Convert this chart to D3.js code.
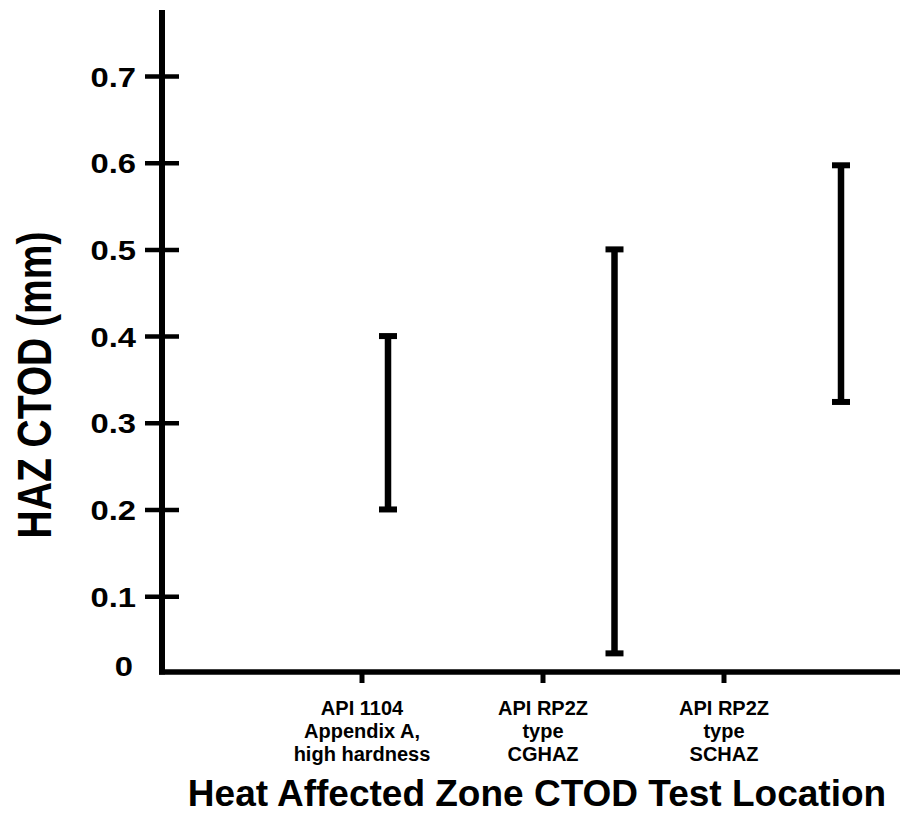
<!DOCTYPE html>
<html lang="en">
<head>
    <meta charset="UTF-8">
    <script src="https://d3js.org/d3.v7.min.js"></script>
    <style>
        body { margin: 0; background: #fff; }
        text {
            font-family: Arial, "Liberation Sans", sans-serif;
            font-weight: bold;
            fill: #000;
        }
        .ytick text { font-size: 28px; }
        .xtick text { font-size: 20px; }
        .axis-title { font-size: 37px; text-anchor: middle; }
    </style>
</head>
<body>
    <svg id="chart"></svg>
    <script>
        // test locations (x categories), each label split in lines
        const locations = ["API 1104 A", "RP2Z CGHAZ", "RP2Z SCHAZ"];
        const locationLabels = [
            ["API 1104", "Appendix A,", "high hardness"],
            ["API RP2Z", "type", "CGHAZ"],
            ["API RP2Z", "type", "SCHAZ"]
        ];
        // CTOD range per location (mm)
        const ctodLow  = [0.20, 0.034, 0.324];
        const ctodHigh = [0.40, 0.50, 0.597];

        const yTicks = [0.1, 0.2, 0.3, 0.4, 0.5, 0.6, 0.7];
        const yFloor = 0.0125;   // value where the x axis sits, labelled "0"

        const width = 900, height = 815;
        const stretch = 1.17;    // tick numbers are drawn a bit wide

        const svg = d3.select("#chart")
            .attr("width", width)
            .attr("height", height);

        const y = d3.scaleLinear()
            .domain([yFloor, 0.7])
            .range([672, 76]);

        const originX = 162;

        // category positions for labels and for the bars (they don't line up in the original)
        const xLabel = d3.scalePoint().domain(locations).range([362, 724]);
        const xBar = d3.scalePoint().domain(locations).range([388, 841]);

        // y axis
        const yAxis = svg.append("g")
            .attr("class", "ytick")
            .attr("transform", `translate(${originX},0)`)
            .call(d3.axisLeft(y).tickValues(yTicks).tickSize(17).tickPadding(8).tickFormat(d3.format(".1f")));
        yAxis.select(".domain").remove();
        yAxis.selectAll(".tick line")
            .attr("x1", -17).attr("x2", 17)
            .attr("stroke", "#000").attr("stroke-width", 4.5);
        yAxis.selectAll(".tick text")
            .attr("dy", "0.36em")
            .attr("x", -26 / stretch)
            .attr("transform", `scale(${stretch},1)`);

        yAxis.append("text")
            .attr("x", -29 / stretch)
            .attr("y", y(yFloor) - 6)
            .attr("dy", "0.36em")
            .attr("text-anchor", "end")
            .attr("transform", `scale(${stretch},1)`)
            .style("font-size", "28px")
            .text("0");

        svg.append("line")
            .attr("x1", originX).attr("x2", originX)
            .attr("y1", 10).attr("y2", y(yFloor) + 2.5)
            .attr("stroke", "#000").attr("stroke-width", 6);

        // x axis
        svg.append("line")
            .attr("x1", originX - 3).attr("x2", width)
            .attr("y1", y(yFloor)).attr("y2", y(yFloor))
            .attr("stroke", "#000").attr("stroke-width", 5.5);

        const xt = svg.selectAll(".xtick")
            .data(locations)
            .enter().append("g")
            .attr("class", "xtick")
            .attr("transform", d => `translate(${xLabel(d)},${y(yFloor)})`);

        xt.append("line")
            .attr("y1", 0).attr("y2", 11)
            .attr("stroke", "#000").attr("stroke-width", 5);

        xt.append("text")
            .attr("text-anchor", "middle")
            .selectAll("tspan")
            .data((d, i) => locationLabels[i])
            .enter().append("tspan")
            .attr("x", 0)
            .attr("y", (d, j) => 43 + j * 23)
            .text(d => d);

        // error bars
        const bars = svg.selectAll(".range")
            .data(locations)
            .enter().append("g")
            .attr("class", "range");

        bars.append("line")
            .attr("x1", d => xBar(d)).attr("x2", d => xBar(d))
            .attr("y1", (d, i) => y(ctodHigh[i])).attr("y2", (d, i) => y(ctodLow[i]))
            .attr("stroke", "#000").attr("stroke-width", 6.5);

        [ctodHigh, ctodLow].forEach(vals => {
            bars.append("line")
                .attr("x1", d => xBar(d) - 9).attr("x2", d => xBar(d) + 9)
                .attr("y1", (d, i) => y(vals[i])).attr("y2", (d, i) => y(vals[i]))
                .attr("stroke", "#000").attr("stroke-width", 6);
        });

        // axis titles
        svg.append("text")
            .attr("class", "axis-title")
            .attr("x", 537)
            .attr("y", 806)
            .text("Heat Affected Zone CTOD Test Location");

        svg.append("text")
            .attr("class", "axis-title")
            .attr("transform", "translate(51,385) rotate(-90) scale(1,1.25)")
            .style("font-size", "39px")
            .text("HAZ CTOD (mm)");
    </script>
</body>
</html>
